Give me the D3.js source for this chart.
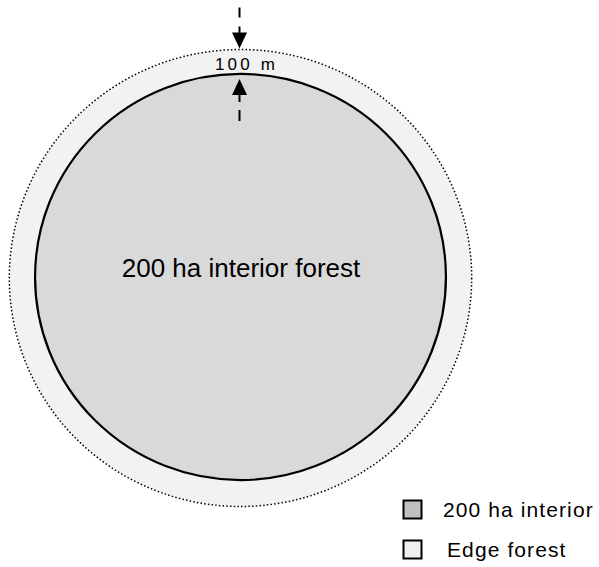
<!DOCTYPE html>
<html><head><meta charset="utf-8">
<script src="https://cdn.jsdelivr.net/npm/d3@7"></script>
<style>body{margin:0;background:#fff}svg{display:block}</style>
</head><body>
<script>
const categories = ["200 ha interior", "Edge forest"];
const interiorAreaHa = 200;
const edgeWidthM = 100;
const centerLabel = "200 ha interior forest";
const widthLabel = "100 m";
const fills = ["#d9d9d9", "#f2f2f2"];
const legendFills = ["#c0c0c0", "#efefef"];

const W = 599, H = 567;
const svg = d3.select("body").append("svg").attr("width", W).attr("height", H);

const rInner = Math.sqrt(interiorAreaHa * 10000 / Math.PI);
const rOuter = rInner + edgeWidthM;
const cx = 240.5, cy = 278;
const sx = d3.scaleLinear().domain([0, rOuter]).range([0, 231.2]);
const sy = d3.scaleLinear().domain([0, rOuter]).range([0, 228.5]);

// outer edge forest
svg.append("ellipse").attr("cx", cx).attr("cy", cy)
  .attr("rx", sx(rOuter)).attr("ry", sy(rOuter))
  .attr("fill", fills[1]).attr("stroke", "#000").attr("stroke-width", 1.5)
  .attr("stroke-dasharray", "1.5,2.2");
// interior
svg.append("ellipse").attr("cx", cx).attr("cy", cy - 1)
  .attr("rx", sx(rInner)).attr("ry", sy(rInner))
  .attr("fill", fills[0]).attr("stroke", "#000").attr("stroke-width", 2.2);

const font = "Arial, 'Liberation Sans', sans-serif";
svg.append("text").attr("x", 241).attr("y", 277).attr("text-anchor", "middle")
  .attr("font-family", font).attr("font-size", 26).attr("fill", "#000").text(centerLabel);

svg.append("text").attr("x", 246.5).attr("y", 70).attr("text-anchor", "middle")
  .attr("font-family", font).attr("font-size", 17).attr("letter-spacing", 3.2)
  .attr("fill", "#000").text(widthLabel);

// arrows
const ax = 239.5;
const topOuter = cy - sy(rOuter), topInner = cy - 1 - sy(rInner);
svg.append("line").attr("x1", ax).attr("x2", ax).attr("y1", topOuter - 42).attr("y2", topOuter - 16)
  .attr("stroke", "#000").attr("stroke-width", 2).attr("stroke-dasharray", "10,9");
svg.append("path").attr("d", `M${ax - 7.5},${topOuter - 17} L${ax + 7.5},${topOuter - 17} L${ax},${topOuter - 1} Z`).attr("fill", "#000");
svg.append("line").attr("x1", ax).attr("x2", ax).attr("y1", topInner + 20).attr("y2", topInner + 47)
  .attr("stroke", "#000").attr("stroke-width", 2).attr("stroke-dasharray", "8,8,12");
svg.append("path").attr("d", `M${ax - 7.5},${topInner + 21} L${ax + 7.5},${topInner + 21} L${ax},${topInner + 5} Z`).attr("fill", "#000");

// legend
const ly = d3.scalePoint().domain(categories).range([509.5, 549.5]);
const lg = svg.append("g").selectAll("g").data(categories).join("g")
  .attr("transform", d => `translate(0,${ly(d)})`);
lg.append("rect").attr("x", 403.5).attr("y", -9).attr("width", 18).attr("height", 18)
  .attr("fill", (d, i) => legendFills[i]).attr("stroke", "#000").attr("stroke-width", 2);
lg.append("text").attr("x", (d, i) => i === 0 ? 443 : 447).attr("y", 7.5)
  .attr("font-family", font).attr("font-size", 21).attr("letter-spacing", 1.1)
  .attr("fill", "#000").text(d => d);
</script>
</body></html>
